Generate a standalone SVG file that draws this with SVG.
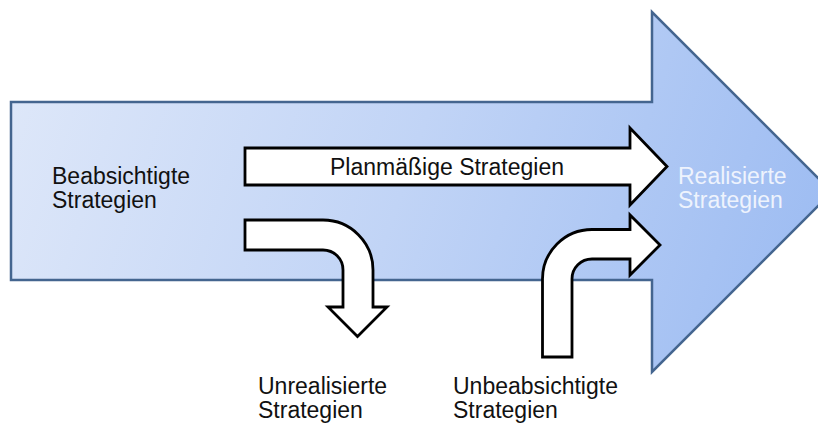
<svg xmlns="http://www.w3.org/2000/svg" width="818" height="423" viewBox="0 0 818 423">
  <defs>
    <linearGradient id="flowFill" gradientUnits="userSpaceOnUse" x1="0" y1="60" x2="800" y2="330">
      <stop offset="0" stop-color="#dfe8f9"/>
      <stop offset="0.5" stop-color="#c1d4f6"/>
      <stop offset="1" stop-color="#9dbcf2"/>
    </linearGradient>
    <style>
      .main { fill: url(#flowFill); stroke: #44658f; stroke-width: 2.5; stroke-linejoin: miter; }
      .flow { fill: #ffffff; stroke: #000000; stroke-width: 2.8; stroke-linejoin: miter; }
      .label { font-family: "Liberation Sans", Arial, sans-serif; font-size: 23px; fill: #111111; }
      .light { fill: #eef3fd; }
    </style>
  </defs>

  <!-- large background arrow -->
  <g id="main-arrow">
    <path class="main" d="M11,102 L652,102 L652,12 L832,192 L652,372 L652,280 L11,280 Z"/>
  </g>

  <g id="connectors">
    <!-- straight arrow: planned strategies -->
    <path id="planned" class="flow" d="M245,148 L630,148 L630,128 L667,166.5 L630,205 L630,185 L245,185 Z"/>
    <!-- arrow bending down: unrealised strategies -->
    <path id="unrealised" class="flow" d="M245,220 L323,220 A50,50 0 0 1 373,270 L373,307 L387,307 L357.5,336.5 L328,307 L343,307 L343,270 A20,20 0 0 0 323,250 L245,250 Z"/>
    <!-- arrow bending up into the flow: emergent strategies -->
    <path id="emergent" class="flow" d="M542.5,357 L542.5,279 A49.5,49.5 0 0 1 592,229.5 L630,229.5 L630,215 L660,245 L630,275 L630,259 L592,259 A20,20 0 0 0 572,279 L572,357 Z"/>
  </g>

  <g id="node-intended">
    <text class="label" x="52" y="184">Beabsichtigte</text>
    <text class="label" x="52" y="208">Strategien</text>
  </g>

  <g id="node-planned-label">
    <text class="label" x="447" y="175" text-anchor="middle">Planmäßige Strategien</text>
  </g>

  <g id="node-realised">
    <text class="label light" x="678" y="184">Realisierte</text>
    <text class="label light" x="678" y="208">Strategien</text>
  </g>

  <g id="node-unrealised">
    <text class="label" x="258" y="394">Unrealisierte</text>
    <text class="label" x="258" y="418">Strategien</text>
  </g>

  <g id="node-emergent">
    <text class="label" x="453" y="394">Unbeabsichtigte</text>
    <text class="label" x="453" y="418">Strategien</text>
  </g>
</svg>
